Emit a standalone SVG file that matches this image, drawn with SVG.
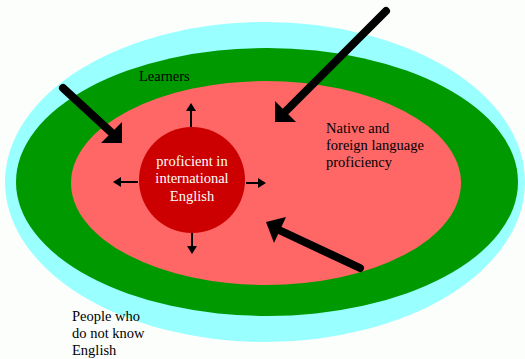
<svg xmlns="http://www.w3.org/2000/svg" width="525" height="359" viewBox="0 0 525 359">
<style>
text{font-family:'Liberation Serif','Times New Roman','DejaVu Serif',serif;font-size:14.5px;fill:#000}
.w{fill:#fff;text-anchor:middle}
.big{stroke:#000;stroke-width:8;stroke-linecap:round;fill:none}
.sm{stroke:#000;stroke-width:2;fill:none}
.hd{fill:#000}
</style>
<rect width="525" height="359" fill="#fcfefc"/>
<g id="people">
<ellipse cx="265" cy="182" rx="260" ry="160" fill="#99ffff"/>
<text x="72" y="321">People who</text>
<text x="72" y="338">do not know</text>
<text x="72" y="355">English</text>
</g>
<g id="learners">
<ellipse cx="267" cy="182" rx="251" ry="134" fill="#009900"/>
<text x="139" y="81">Learners</text>
</g>
<g id="native">
<ellipse cx="266" cy="183" rx="195" ry="102" fill="#ff6666"/>
<text x="326" y="133">Native and</text>
<text x="326" y="150">foreign language</text>
<text x="326" y="167">proficiency</text>
</g>
<g id="proficient">
<circle cx="192" cy="180" r="53" fill="#cc0000"/>
<text class="w" x="192" y="166">proficient in</text>
<text class="w" x="192" y="183">international</text>
<text class="w" x="192" y="201">English</text>
</g>
<g id="connectors">
<line class="big" x1="63" y1="88" x2="113" y2="134"/>
<polygon class="hd" points="122,143 101,143 122,122"/>
<line class="big" x1="386" y1="11" x2="286" y2="111"/>
<polygon class="hd" points="275,122 275,101 296,122"/>
<line class="big" x1="360" y1="268" x2="279" y2="230"/>
<polygon class="hd" points="266,222 286,217 274,243"/>
<line class="sm" x1="191" y1="127" x2="191" y2="109"/>
<polygon class="hd" points="191,103 186,111 196,111"/>
<line class="sm" x1="192" y1="233" x2="192" y2="247"/>
<polygon class="hd" points="192,254 187,246 197,246"/>
<line class="sm" x1="138" y1="182" x2="119" y2="182"/>
<polygon class="hd" points="113,182 121,177 121,187"/>
<line class="sm" x1="246" y1="183" x2="260" y2="183"/>
<polygon class="hd" points="266,183 258,178 258,188"/>
</g>
</svg>
